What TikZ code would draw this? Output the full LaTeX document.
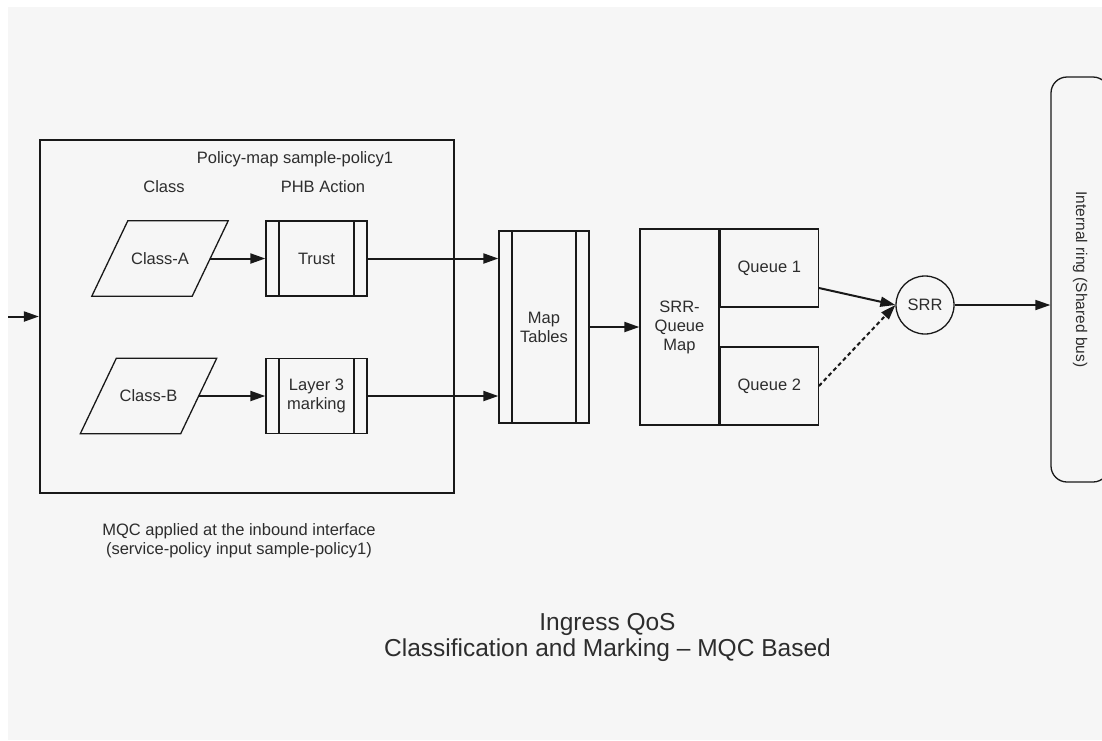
\documentclass[tikz,border=0pt]{standalone}
\usepackage{fontspec}
\setmainfont{Liberation Sans}
\usetikzlibrary{arrows.meta,positioning,calc,shapes.geometric}
\definecolor{bggray}{RGB}{246,246,246}
\definecolor{inkgray}{RGB}{45,45,45}
\definecolor{linegray}{RGB}{25,25,25}

\begin{document}
\begin{tikzpicture}[x=1pt,y=-1pt,node distance=20pt,
  txt/.style={font=\fontsize{16.5}{19}\selectfont,align=center,text=inkgray},
  classbox/.style={txt,minimum width=100pt,minimum height=75pt,inner sep=0pt},
  slant/.style={draw=linegray,line width=1.3pt},
  procbox/.style={txt,draw=linegray,line width=1.3pt,inner sep=0pt,
    path picture={\draw[linegray,line width=1.3pt] ([xshift=13pt]path picture bounding box.north west) -- ([xshift=13pt]path picture bounding box.south west) ([xshift=-13pt]path picture bounding box.north east) -- ([xshift=-13pt]path picture bounding box.south east);}},
  qbox/.style={txt,draw=linegray,line width=1.3pt,inner sep=0pt},
  flow/.style={draw=linegray,line width=2pt,-{Triangle[length=15pt,width=10pt]}}]
% page and background
\useasboundingbox (0,0) rectangle (1102,740);
\fill[white] (0,0) rectangle (1102,740);
\fill[bggray] (8,7) rectangle (1102,740);
% policy map
\node[draw=linegray,line width=2.2pt,minimum width=414pt,minimum height=353pt] (policy) at (247,316.5) {};
\node[txt] (pmtitle) at (295,159) {Policy-map sample-policy1};
\node[txt] (classhd) at (164,187) {Class};
\node[txt] (phbhd) at (323,187) {PHB Action};
\node[classbox] (classA) at (160,258.5) {Class-A};
\node[classbox] (classB) at (148.5,396) {Class-B};
\foreach \n in {classA,classB}
  \draw[slant] ([xshift=-18pt]\n.south west) -- ([xshift=-18pt]\n.south east) -- ([xshift=18pt]\n.north east) -- ([xshift=18pt]\n.north west) -- cycle;
\node[procbox,minimum width=101pt,minimum height=75pt] (trust) at (316.5,258.5) {Trust};
\node[procbox,minimum width=101pt,minimum height=75pt] (mark) at (316.5,396) {Layer 3\\marking};
\node[txt] (mqc) at (239,541) {MQC applied at the inbound interface\\(service-policy input sample-policy1)};
% queueing
\node[procbox,minimum width=90pt,minimum height=192pt] (maps) at (544,327) {Map\\Tables};
\node[qbox,minimum width=79pt,minimum height=196pt] (srrmap) at (679.5,327) {SRR-\\Queue\\Map};
\node[qbox,minimum width=98pt,minimum height=78pt,anchor=north west] (q1) at (srrmap.north east) {Queue 1};
\node[qbox,minimum width=98pt,minimum height=78pt,anchor=south west] (q2) at (srrmap.south east) {Queue 2};
\node[txt,draw=linegray,line width=1.3pt,circle,minimum size=58pt,inner sep=0pt] (srr) at (925,305) {SRR};
\node[txt,font=\fontsize{15.5}{18}\selectfont,draw=linegray,line width=1.3pt,rounded corners=16pt,rotate=-90,minimum width=405pt,minimum height=58pt] (ring) at (1080,279.5) {Internal ring (Shared bus)};
\node[font=\fontsize{24.5}{26}\selectfont,align=center,text=inkgray] (title) at (607.5,637) {Ingress QoS\\Classification and Marking -- MQC Based};
% connectors
\coordinate (src) at (8,316.5);
\draw[flow] (src) -- (policy.west);
\draw[flow] (classA.east) -- (trust.west);
\draw[flow] (classB.east) -- (mark.west);
\draw[flow] (trust.east) -- (trust.east -| maps.west);
\draw[flow] (mark.east) -- (mark.east -| maps.west);
\draw[flow] (maps.east) -- (srrmap.west);
\draw[flow] ([yshift=-20pt]q1.east) -- (srr.west);
\draw[flow,dash pattern=on 4pt off 3pt] (q2.east) -- (srr.west);
\draw[flow,line width=1.7pt] (srr.east) -- (srr.east -| ring.south);
\end{tikzpicture}
\end{document}
